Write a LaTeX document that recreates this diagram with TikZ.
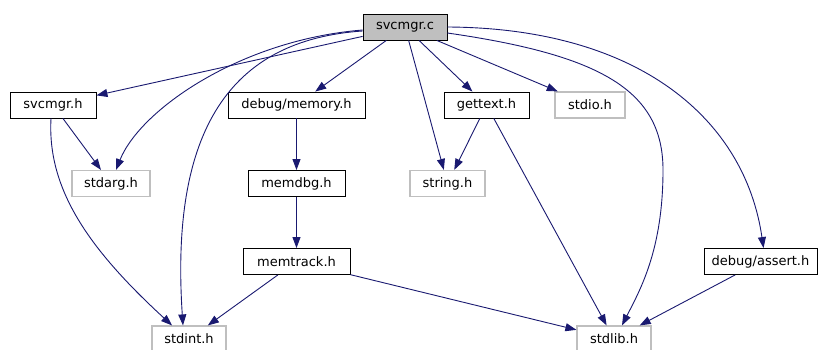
\documentclass[tikz,border=0pt]{standalone}
\usepackage{fontspec}
\setmainfont{DejaVu Sans}
\usepackage{xcolor}
\usetikzlibrary{arrows.meta}

\definecolor{edgeblue}{HTML}{191970}
\definecolor{sysgray}{HTML}{BFBFBF}

\begin{document}
\begin{tikzpicture}[
  x=1pt, y=-1pt,
  hdr/.style={draw=black, rectangle, line width=0.9pt, minimum height=26pt, inner sep=0pt, font=\fontsize{13}{15}\selectfont},
  sys/.style={hdr, draw=sysgray, line width=1.2pt},
  src/.style={hdr, fill=sysgray},
  dep/.style={-{Triangle[length=11pt,width=8pt]}, draw=edgeblue, line width=0.9pt}
]
\useasboundingbox (0,0) rectangle (818,349);

\node[src, minimum width=84pt] (svcmgrc) at (405,27) {svcmgr.c};
\node[hdr, minimum width=86pt] (svcmgrh) at (53,105) {svcmgr.h};
\node[hdr, minimum width=137pt] (memory) at (296.5,105) {debug/memory.h};
\node[hdr, minimum width=85pt] (gettext) at (486.5,105) {gettext.h};
\node[sys, minimum width=70pt] (stdio) at (590,105) {stdio.h};
\node[sys, minimum width=78pt] (stdarg) at (111,183.5) {stdarg.h};
\node[hdr, minimum width=97pt] (memdbg) at (296.5,183.5) {memdbg.h};
\node[sys, minimum width=75pt] (string) at (447.5,183.5) {string.h};
\node[hdr, minimum width=107pt] (memtrack) at (296.5,261.5) {memtrack.h};
\node[hdr, minimum width=113pt] (assert) at (760.5,261.5) {debug/assert.h};
\node[sys, minimum width=74pt] (stdint) at (189,339) {stdint.h};
\node[sys, minimum width=74pt] (stdlib) at (614,339) {stdlib.h};

% svcmgr.c
\draw[dep] (svcmgrc) -- (svcmgrh);
\draw[dep] (svcmgrc) -- (memory);
\draw[dep] (svcmgrc) -- (gettext);
\draw[dep] (svcmgrc) -- (stdio);
\draw[dep] (svcmgrc) -- (string);
\draw[dep] ([yshift=-3pt]svcmgrc.west) .. controls (240,40) and (140,110) .. ([xshift=5pt]stdarg.north);
\draw[dep] ([yshift=-4pt]svcmgrc.west) .. controls (230,40) and (170,130) .. ([xshift=-6pt]stdint.north);
\draw[dep] ([yshift=-6pt]svcmgrc.east) .. controls (600,55) and (663,90) .. (663,170)
  .. controls (663,250) and (640,290) .. ([xshift=8pt]stdlib.north);
\draw[dep] (svcmgrc.east) .. controls (640,28) and (745,120) .. ([xshift=3pt]assert.north);

% headers
\draw[dep] (svcmgrh) -- (stdarg);
\draw[dep] ([xshift=-2pt]svcmgrh.south) .. controls (47,190) and (90,250) .. ([xshift=-17pt]stdint.north);
\draw[dep] (memory) -- (memdbg);
\draw[dep] (memdbg) -- (memtrack);
\draw[dep] (memtrack) -- (stdint);
\draw[dep] (memtrack) -- (stdlib);
\draw[dep] (gettext) -- (string);
\draw[dep] (gettext) -- (stdlib);
\draw[dep] (assert) -- (stdlib);
\end{tikzpicture}
\end{document}
